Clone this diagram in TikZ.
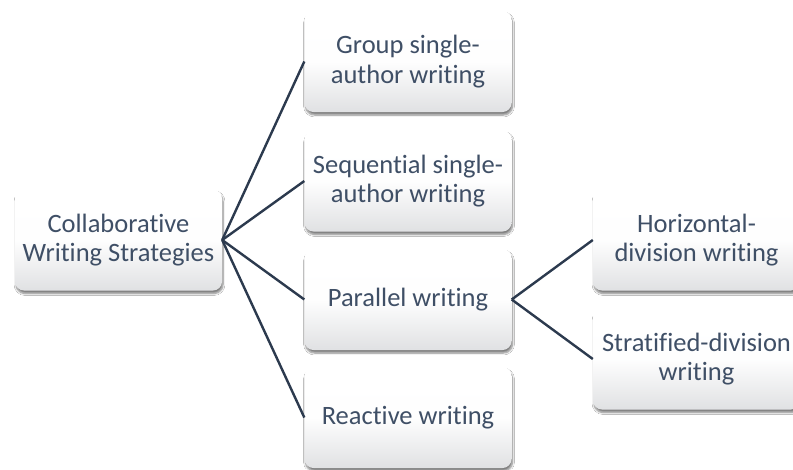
\documentclass[tikz,border=0pt]{standalone}
\usepackage{fontspec}
\setmainfont{Carlito}[Ligatures={NoCommon}]
\usetikzlibrary{shadows.blur}
\definecolor{txt}{HTML}{3F4F66}
\definecolor{ln}{HTML}{2C3A4E}
\definecolor{boxbot}{HTML}{E0E1E3}
\tikzset{
  box/.style={rectangle, rounded corners=9pt, minimum width=207pt, minimum height=101pt,
    align=center, text=txt, font=\fontsize{26.5}{29.5}\selectfont,
    top color=white, bottom color=boxbot, middle color=white!97!boxbot,
    blur shadow={shadow xshift=1pt, shadow yshift=-3pt, shadow blur steps=6, shadow opacity=50}},
  conn/.style={draw=ln, line width=2.4pt}
}
\begin{document}
\begin{tikzpicture}[x=1pt,y=-1pt]
\useasboundingbox[fill=white] (0,0) rectangle (793,469);
\node[box] (root) at (118.5,240) {Collaborative\\Writing Strategies};
\node[box] (group) at (408,61.5) {Group single-\\author writing};
\node[box] (seq) at (408,181) {Sequential single-\\author writing};
\node[box] (par) at (408,299.5) {Parallel writing};
\node[box] (react) at (408,417.5) {Reactive writing};
\node[box] (horiz) at (696.5,240) {Horizontal-\\division writing};
\node[box] (strat) at (696.5,359) {Stratified-division\\writing};
\draw[conn] (root.east) -- (group.west);
\draw[conn] (root.east) -- (seq.west);
\draw[conn] (root.east) -- (par.west);
\draw[conn] (root.east) -- (react.west);
\draw[conn] (par.east) -- (horiz.west);
\draw[conn] (par.east) -- (strat.west);
\end{tikzpicture}
\end{document}
